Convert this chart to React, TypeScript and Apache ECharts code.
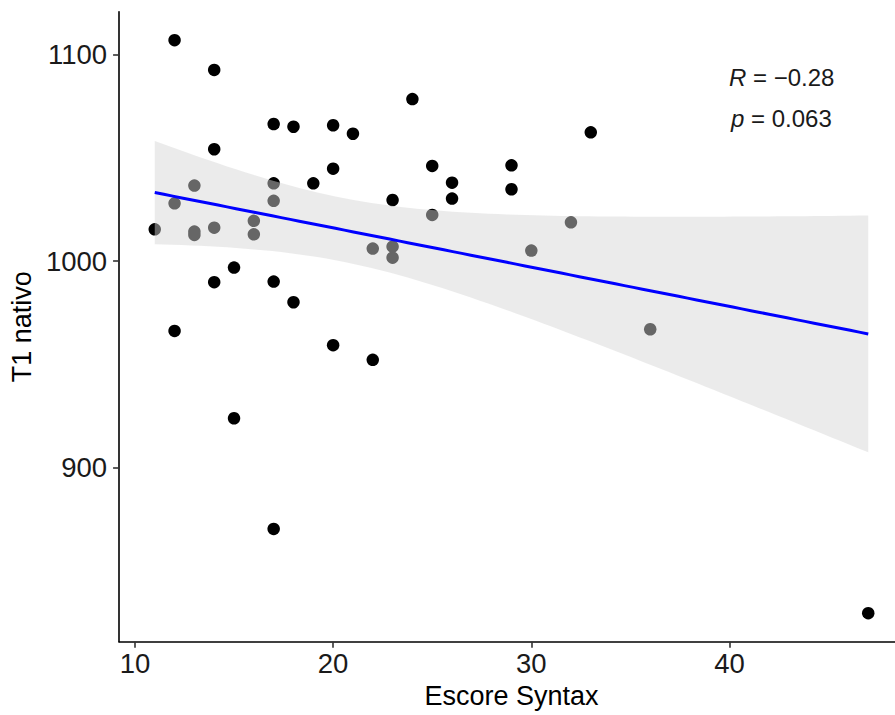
import React, { useEffect, useRef } from "react";
import * as echarts from "echarts";

// Escore Syntax (x) and T1 nativo (y)
const escore: number[] = [
  12, 14, 17, 18, 14, 13, 17, 12, 17, 11, 13, 13, 14, 16, 16, 15, 14, 17, 18, 12, 15, 17,
  20, 21, 24, 33, 20, 19, 25, 26, 26, 29, 29, 23, 25, 32, 22, 23, 23, 30, 20, 22, 36, 47,
];
const t1nativo: number[] = [
  1107, 1092.6, 1066.4, 1065.1, 1054.2, 1036.6, 1037.7, 1028.0, 1029.2, 1015.4, 1014.3, 1012.7,
  1016.2, 1019.5, 1013.0, 996.9, 989.8, 990.1, 980.1, 966.2, 923.9, 870.3,
  1065.8, 1061.7, 1078.5, 1062.4, 1044.8, 1037.7, 1046.1, 1038.0, 1030.3, 1046.4, 1034.8,
  1029.6, 1022.4, 1018.8, 1006.1, 1007.0, 1001.7, 1005.1, 959.3, 952.2, 967.0, 829.5,
];
const xTicks = [10, 20, 30, 40];
const yTicks = [900, 1000, 1100];
const corrLabel = "{i|R} = \u22120.28";
const pLabel = "{i|p} = 0.063";
const xTitle = "Escore Syntax";
const yTitle = "T1 nativo";

// linear fit with 95% confidence band (as geom_smooth(method = "lm"))
function fitBand() {
  const n = escore.length;
  const mx = escore.reduce((a, b) => a + b, 0) / n;
  const my = t1nativo.reduce((a, b) => a + b, 0) / n;
  let sxx = 0, sxy = 0;
  for (let i = 0; i < n; i++) {
    sxx += (escore[i] - mx) ** 2;
    sxy += (escore[i] - mx) * (t1nativo[i] - my);
  }
  const b = sxy / sxx;
  const a = my - b * mx;
  let sse = 0;
  for (let i = 0; i < n; i++) sse += (t1nativo[i] - (a + b * escore[i])) ** 2;
  const s = Math.sqrt(sse / (n - 2));
  const tq = 2.018; // t(0.975, df = 42)
  const lo = Math.min(...escore), hi = Math.max(...escore);
  const line: number[][] = [], upper: number[][] = [], lower: number[][] = [];
  const steps = 80;
  for (let k = 0; k < steps; k++) {
    const x = lo + ((hi - lo) * k) / (steps - 1);
    const yh = a + b * x;
    const se = s * Math.sqrt(1 / n + (x - mx) ** 2 / sxx);
    line.push([x, yh]);
    upper.push([x, yh + tq * se]);
    lower.push([x, yh - tq * se]);
  }
  return { line, upper, lower };
}

const FONT = "'Liberation Sans', Arial, Helvetica, sans-serif";

export default function App() {
  const ref = useRef<HTMLDivElement>(null);
  useEffect(() => {
    if (!ref.current) return;
    const chart = echarts.init(ref.current, undefined, { renderer: "svg" });
    const { line, upper, lower } = fitBand();
    const bandPts = upper.concat(lower.slice().reverse());
    chart.setOption({
      animation: false,
      backgroundColor: "#ffffff",
      grid: { left: 117.4, right: 0, top: 11.7, bottom: 73.3, containLabel: false },
      xAxis: {
        type: "value",
        min: 9.2,
        max: 48.35,
        name: xTitle,
        nameLocation: "middle",
        nameGap: 41,
        nameTextStyle: { fontFamily: FONT, fontSize: 27, color: "#000", padding: [0, 0, 0, 9] },
        splitLine: { show: false },
        axisLine: { show: true, onZero: false, lineStyle: { color: "#000", width: 1.6 } },
        axisTick: { show: true, length: 6, lineStyle: { color: "#333", width: 1.6 }, customValues: xTicks },
        axisLabel: {
          fontFamily: FONT, fontSize: 27.5, color: "#1a1a1a", margin: 8,
          customValues: xTicks,
          formatter: (v: number) => String(v),
        },
      },
      yAxis: {
        type: "value",
        min: 815.7,
        max: 1120.8,
        name: yTitle,
        nameLocation: "middle",
        nameRotate: 90,
        nameGap: 82,
        nameTextStyle: { fontFamily: FONT, fontSize: 27, color: "#000" },
        splitLine: { show: false },
        axisLine: { show: true, onZero: false, lineStyle: { color: "#000", width: 1.6 } },
        axisTick: { show: true, length: 6, lineStyle: { color: "#333", width: 1.6 }, customValues: yTicks },
        axisLabel: {
          fontFamily: FONT, fontSize: 27.5, color: "#1a1a1a", margin: 12,
          customValues: yTicks,
          formatter: (v: number) => String(v),
        },
      },
      series: [
        {
          type: "scatter",
          data: escore.map((x, i) => [x, t1nativo[i]]),
          symbol: "circle",
          symbolSize: 12.5,
          itemStyle: { color: "#000", opacity: 1 },
          z: 2,
        },
        {
          type: "custom",
          data: [[0]],
          z: 3,
          renderItem: (_params: any, api: any) => ({
            type: "polygon",
            shape: { points: bandPts.map((p) => api.coord(p)) },
            style: { fill: "rgba(213,213,213,0.48)", stroke: "none" },
          }),
        },
        {
          type: "line",
          data: line,
          showSymbol: false,
          lineStyle: { color: "#0000ff", width: 3 },
          z: 4,
        },
      ],
      graphic: [
        {
          type: "text",
          x: 729,
          y: 77,
          style: {
            text: corrLabel,
            fontFamily: FONT,
            fontSize: 24,
            fill: "#1a1a1a",
            verticalAlign: "middle",
            align: "left",
            rich: { i: { fontStyle: "italic", fontFamily: FONT, fontSize: 24, fill: "#1a1a1a" } },
          },
        },
        {
          type: "text",
          x: 731,
          y: 118,
          style: {
            text: pLabel,
            fontFamily: FONT,
            fontSize: 24,
            fill: "#1a1a1a",
            verticalAlign: "middle",
            align: "left",
            rich: { i: { fontStyle: "italic", fontFamily: FONT, fontSize: 24, fill: "#1a1a1a" } },
          },
        },
      ],
    });
    return () => chart.dispose();
  }, []);
  return (
    <div
      ref={ref}
      style={{ position: "fixed", left: 0, top: 0, width: 895, height: 715, background: "#fff" }}
    />
  );
}
